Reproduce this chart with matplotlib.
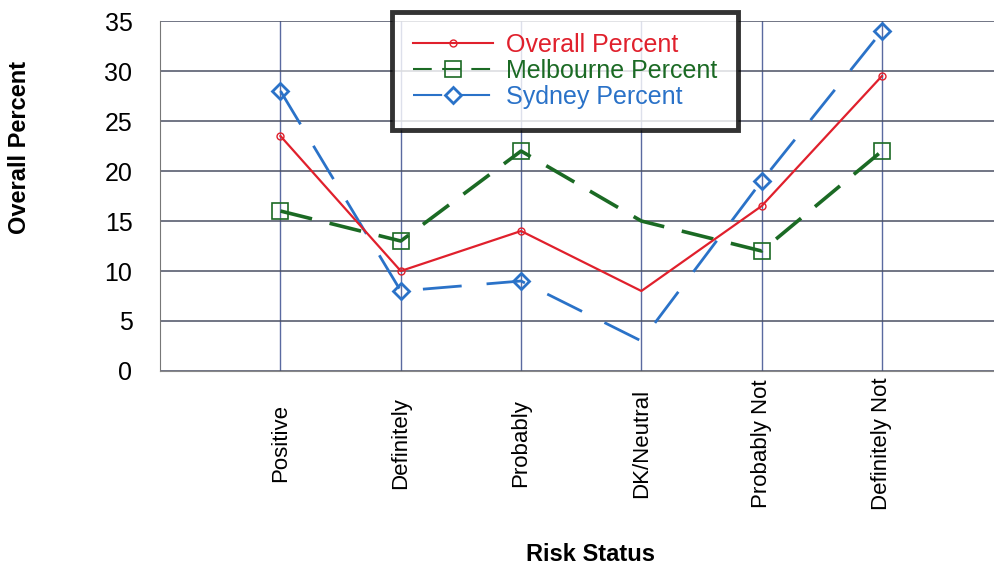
import matplotlib
matplotlib.use("Agg")
import matplotlib.pyplot as plt
import numpy as np

categories = ["Positive", "Definitely", "Probably", "DK/Neutral", "Probably Not", "Definitely Not"]
overall_pct = [23.5, 10, 14, 8, 16.5, 29.5]
melbourne_pct = [16, 13, 22, 15, 12, 22]
sydney_pct = [28, 8, 9, 3, 19, 34]

RED = "#e0202c"
GREEN = "#1b6a24"
BLUE = "#2a72c8"
GRID = "#4a4f63"

plt.rcParams["font.family"] = ["Liberation Sans", "DejaVu Sans"]

fig = plt.figure(figsize=(9.95, 5.69), dpi=100)
ax = fig.add_axes([0.161, 0.348, 0.839, 0.615])

x = np.arange(len(categories))
# no markers drawn at DK/Neutral in the original
marks = [0, 1, 2, 4, 5]

ax.plot(x, overall_pct, color=RED, lw=1.6, marker="o", ms=5, mfc="none",
        mec=RED, mew=1.0, markevery=marks, label="Overall Percent", zorder=4)
ax.plot(x, melbourne_pct, color=GREEN, lw=2.6, ls=(0, (9, 5)), marker="s", ms=11,
        mfc="none", mec=GREEN, mew=1.2, markevery=marks,
        label="Melbourne Percent", zorder=3)
ax.plot(x, sydney_pct, color=BLUE, lw=2.0, ls=(0, (14, 9)), marker="D", ms=8,
        mfc="none", mec=BLUE, mew=2.0, markevery=marks,
        label="Sydney Percent", zorder=3)

ax.set_xlim(-1.0, 5.94)
ax.set_ylim(0, 35)
ax.set_yticks(np.arange(0, 36, 5))
ax.set_xticks(x)
ax.set_xticklabels(categories, rotation=90, fontsize=16, va="center")
ax.tick_params(axis="y", labelsize=18, length=0, pad=20)
ax.tick_params(axis="x", length=0, pad=52)

ax.grid(axis="y", color=GRID, lw=1.1)
ax.grid(axis="x", color="#5a6aa0", lw=1.0)
ax.set_axisbelow(True)
for side in ["top", "right"]:
    ax.spines[side].set_visible(False)
ax.spines["left"].set_color("#777777")
ax.spines["bottom"].set_color("#888888")

ax.set_ylabel("Overall Percent", fontsize=17, fontweight="bold")
ax.yaxis.set_label_coords(-0.155, 0.64)
fig.text(0.593, 0.005, "Risk Status", fontsize=17, fontweight="bold",
         ha="center", va="bottom")

leg = ax.legend(loc="upper left", bbox_to_anchor=(0.394, 0.979),
                bbox_transform=fig.transFigure, fontsize=18, frameon=True,
                fancybox=False, shadow=False, borderpad=0.85, labelspacing=0.08,
                handlelength=3.2, handletextpad=0.5, borderaxespad=0)
frame = leg.get_frame()
frame.set_edgecolor("black")
frame.set_linewidth(3.5)
for text, c in zip(leg.get_texts(), [RED, GREEN, BLUE]):
    text.set_color(c)
for line in leg.get_lines():
    line.set_linewidth(1.5)

fig.savefig("out.png", dpi=100)
